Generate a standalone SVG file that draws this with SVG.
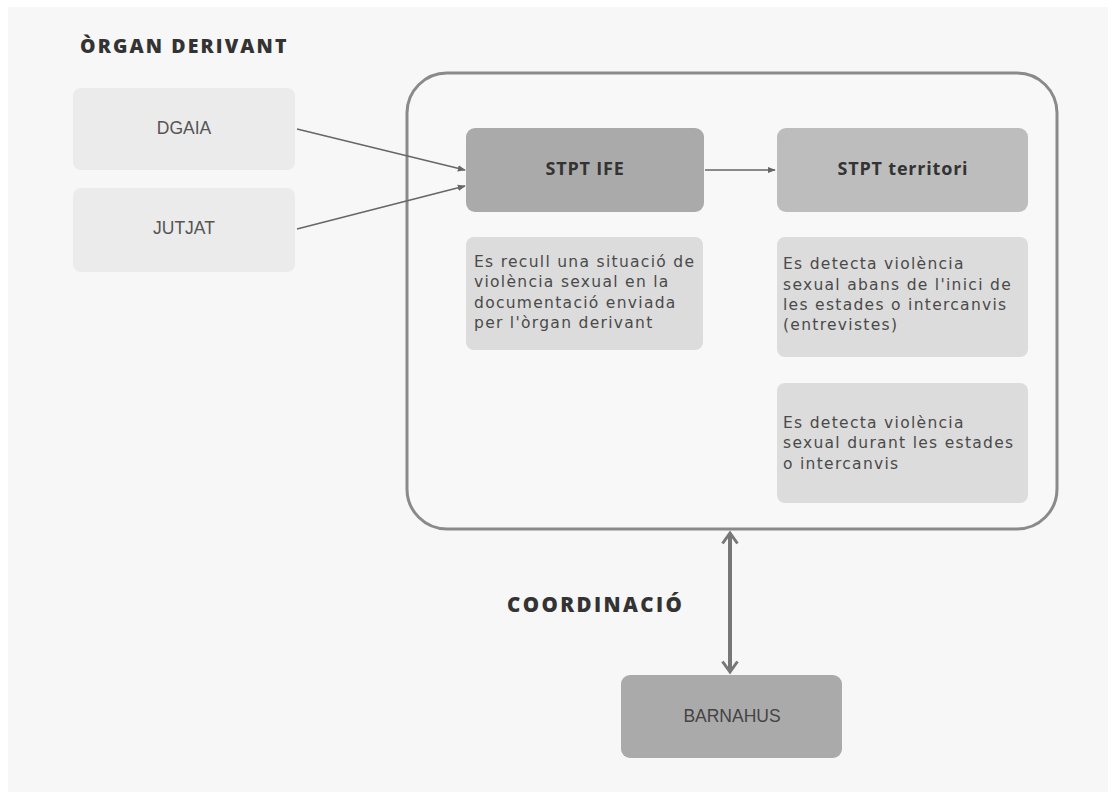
<svg xmlns="http://www.w3.org/2000/svg" width="1115" height="798" viewBox="0 0 1115 798">
<defs>
<style>
.head{font-family:"Open Sans","Liberation Sans",sans-serif;font-weight:800;font-size:19.5px;fill:#333;letter-spacing:2.1px}
.lbl{font-family:"Liberation Sans",Arial,sans-serif;font-size:17.5px;fill:#555;text-anchor:middle}
.blbl{font-family:"Open Sans","Liberation Sans",sans-serif;font-weight:700;font-size:18px;fill:#333;text-anchor:middle;letter-spacing:0.8px}
.body{font-family:"DejaVu Sans","Liberation Sans",sans-serif;font-size:15.5px;fill:#4a4a4a;letter-spacing:1.3px}
.conn{stroke:#666;stroke-width:1.5;fill:none}
</style>
<marker id="ah" viewBox="0 0 10 10" refX="9" refY="5" markerWidth="8" markerHeight="8" orient="auto" markerUnits="userSpaceOnUse">
<path d="M0,1 L10,5 L0,9 z" fill="#666"/>
</marker>
<marker id="ch" viewBox="0 0 12 12" refX="10" refY="6" markerWidth="18" markerHeight="18" orient="auto-start-reverse" markerUnits="userSpaceOnUse">
<path d="M3,1 L10,6 L3,11" fill="none" stroke="#777" stroke-width="2"/>
</marker>
</defs>
<rect x="0" y="0" width="1115" height="798" fill="#ffffff"/>
<rect x="8" y="7" width="1100" height="785" fill="#f7f7f7"/>

<text class="head" x="80" y="53">ÒRGAN DERIVANT</text>
<text class="head" x="507" y="612" style="font-size:20.5px;letter-spacing:2.4px">COORDINACIÓ</text>

<g id="container">
<rect x="407" y="73" width="650" height="456" rx="40" fill="#f8f8f8" stroke="#8a8a8a" stroke-width="3"/>
</g>

<g id="dgaia">
<rect x="73" y="88" width="222" height="82" rx="8" fill="#ebebeb"/>
<text class="lbl" x="184" y="134">DGAIA</text>
</g>
<g id="jutjat">
<rect x="73" y="188" width="222" height="84" rx="8" fill="#ebebeb"/>
<text class="lbl" x="184" y="234">JUTJAT</text>
</g>
<g id="stpt-ife">
<rect x="466" y="128" width="238" height="84" rx="9" fill="#aaaaaa"/>
<text class="blbl" x="585" y="175">STPT IFE</text>
</g>
<g id="stpt-territori">
<rect x="777" y="128" width="251" height="84" rx="9" fill="#bdbdbd"/>
<text class="blbl" x="903" y="175">STPT territori</text>
</g>
<g id="note-ife">
<rect x="466" y="237" width="237" height="113" rx="8" fill="#dcdcdc"/>
<text class="body" x="474" y="267">Es recull una situació de</text>
<text class="body" x="474" y="287">violència sexual en la</text>
<text class="body" x="474" y="308">documentació enviada</text>
<text class="body" x="474" y="328">per l'òrgan derivant</text>
</g>
<g id="note-terr1">
<rect x="777" y="237" width="251" height="120" rx="8" fill="#dcdcdc"/>
<text class="body" x="783" y="269">Es detecta violència</text>
<text class="body" x="783" y="290">sexual abans de l'inici de</text>
<text class="body" x="783" y="310">les estades o intercanvis</text>
<text class="body" x="783" y="330">(entrevistes)</text>
</g>
<g id="note-terr2">
<rect x="777" y="383" width="251" height="120" rx="8" fill="#dcdcdc"/>
<text class="body" x="783" y="428">Es detecta violència</text>
<text class="body" x="783" y="448">sexual durant les estades</text>
<text class="body" x="783" y="469">o intercanvis</text>
</g>
<g id="barnahus">
<rect x="621" y="675" width="221" height="83" rx="9" fill="#aaaaaa"/>
<text class="lbl" x="732" y="722" style="fill:#444">BARNAHUS</text>
</g>

<g id="connectors">
<line class="conn" x1="297" y1="129" x2="465" y2="170" marker-end="url(#ah)"/>
<line class="conn" x1="297" y1="229" x2="465" y2="186" marker-end="url(#ah)"/>
<line class="conn" x1="705" y1="170" x2="775" y2="170" marker-end="url(#ah)"/>
<line x1="730" y1="533" x2="730" y2="672" stroke="#777" stroke-width="4" marker-start="url(#ch)" marker-end="url(#ch)"/>
</g>
</svg>
